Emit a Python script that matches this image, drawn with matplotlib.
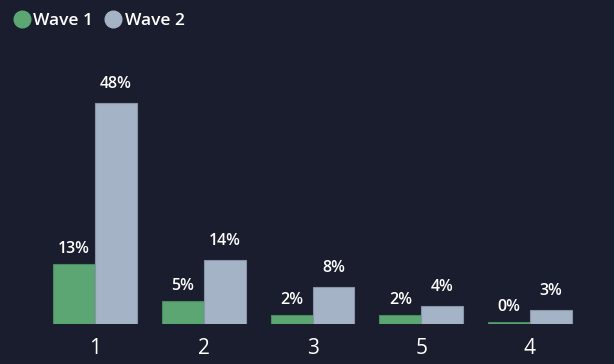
import numpy as np
import matplotlib.pyplot as plt
from matplotlib.lines import Line2D

categories = ['1', '2', '3', '5', '4']
wave1 = [13, 5, 2, 2, 0.4]
wave2 = [48, 14, 8, 4, 3]
wave1_labels = ['13%', '5%', '2%', '2%', '0%']
wave2_labels = ['48%', '14%', '8%', '4%', '3%']

bg = '#191d2d'
green = '#5ba672'
blue = '#a5b3c7'
plt.rcParams['font.family'] = ['Open Sans', 'DejaVu Sans']

fig = plt.figure(figsize=(6.14, 3.64), dpi=100)
fig.patch.set_facecolor(bg)
ax = fig.add_axes([0, 40 / 364, 1, 324 / 364])
ax.set_facecolor(bg)

x = np.arange(len(categories))
w = 0.386
b1 = ax.bar(x - w / 2, wave1, w, color=green, edgecolor='#4a8a5e', linewidth=0.8)
b2 = ax.bar(x + w / 2, wave2, w, color=blue, edgecolor='#8794a8', linewidth=0.8)

for i in range(len(categories)):
    ax.text(x[i] - w / 2, wave1[i] + 3.3, wave1_labels[i], ha='center', va='center',
            color='white', fontsize=11.5, fontweight='semibold')
    ax.text(x[i] + w / 2, wave2[i] + 4.1, wave2_labels[i], ha='center', va='center',
            color='white', fontsize=11.5, fontweight='semibold')

ax.set_xlim(-95 / 108.75, (614 - 95) / 108.75)
ax.set_ylim(0, 48 * 324 / 221)
for s in ax.spines.values():
    s.set_visible(False)
ax.set_yticks([])
ax.set_xticks(x)
ax.set_xticklabels(categories, color='white', fontsize=15)
ax.tick_params(axis='x', length=0, pad=10)

handles = [Line2D([], [], marker='o', linestyle='', markersize=12, color=green),
           Line2D([], [], marker='o', linestyle='', markersize=12, color=blue)]
leg = fig.legend(handles, ['Wave 1', 'Wave 2'], loc='upper left',
                 bbox_to_anchor=(-0.002, 0.999), ncol=2, frameon=False,
                 handletextpad=0.0, columnspacing=0.5, handlelength=1.3,
                 borderaxespad=0.3,
                 prop={'size': 12.5, 'weight': 'semibold'})
for t in leg.get_texts():
    t.set_color('white')

fig.savefig('out.png', facecolor=bg)
